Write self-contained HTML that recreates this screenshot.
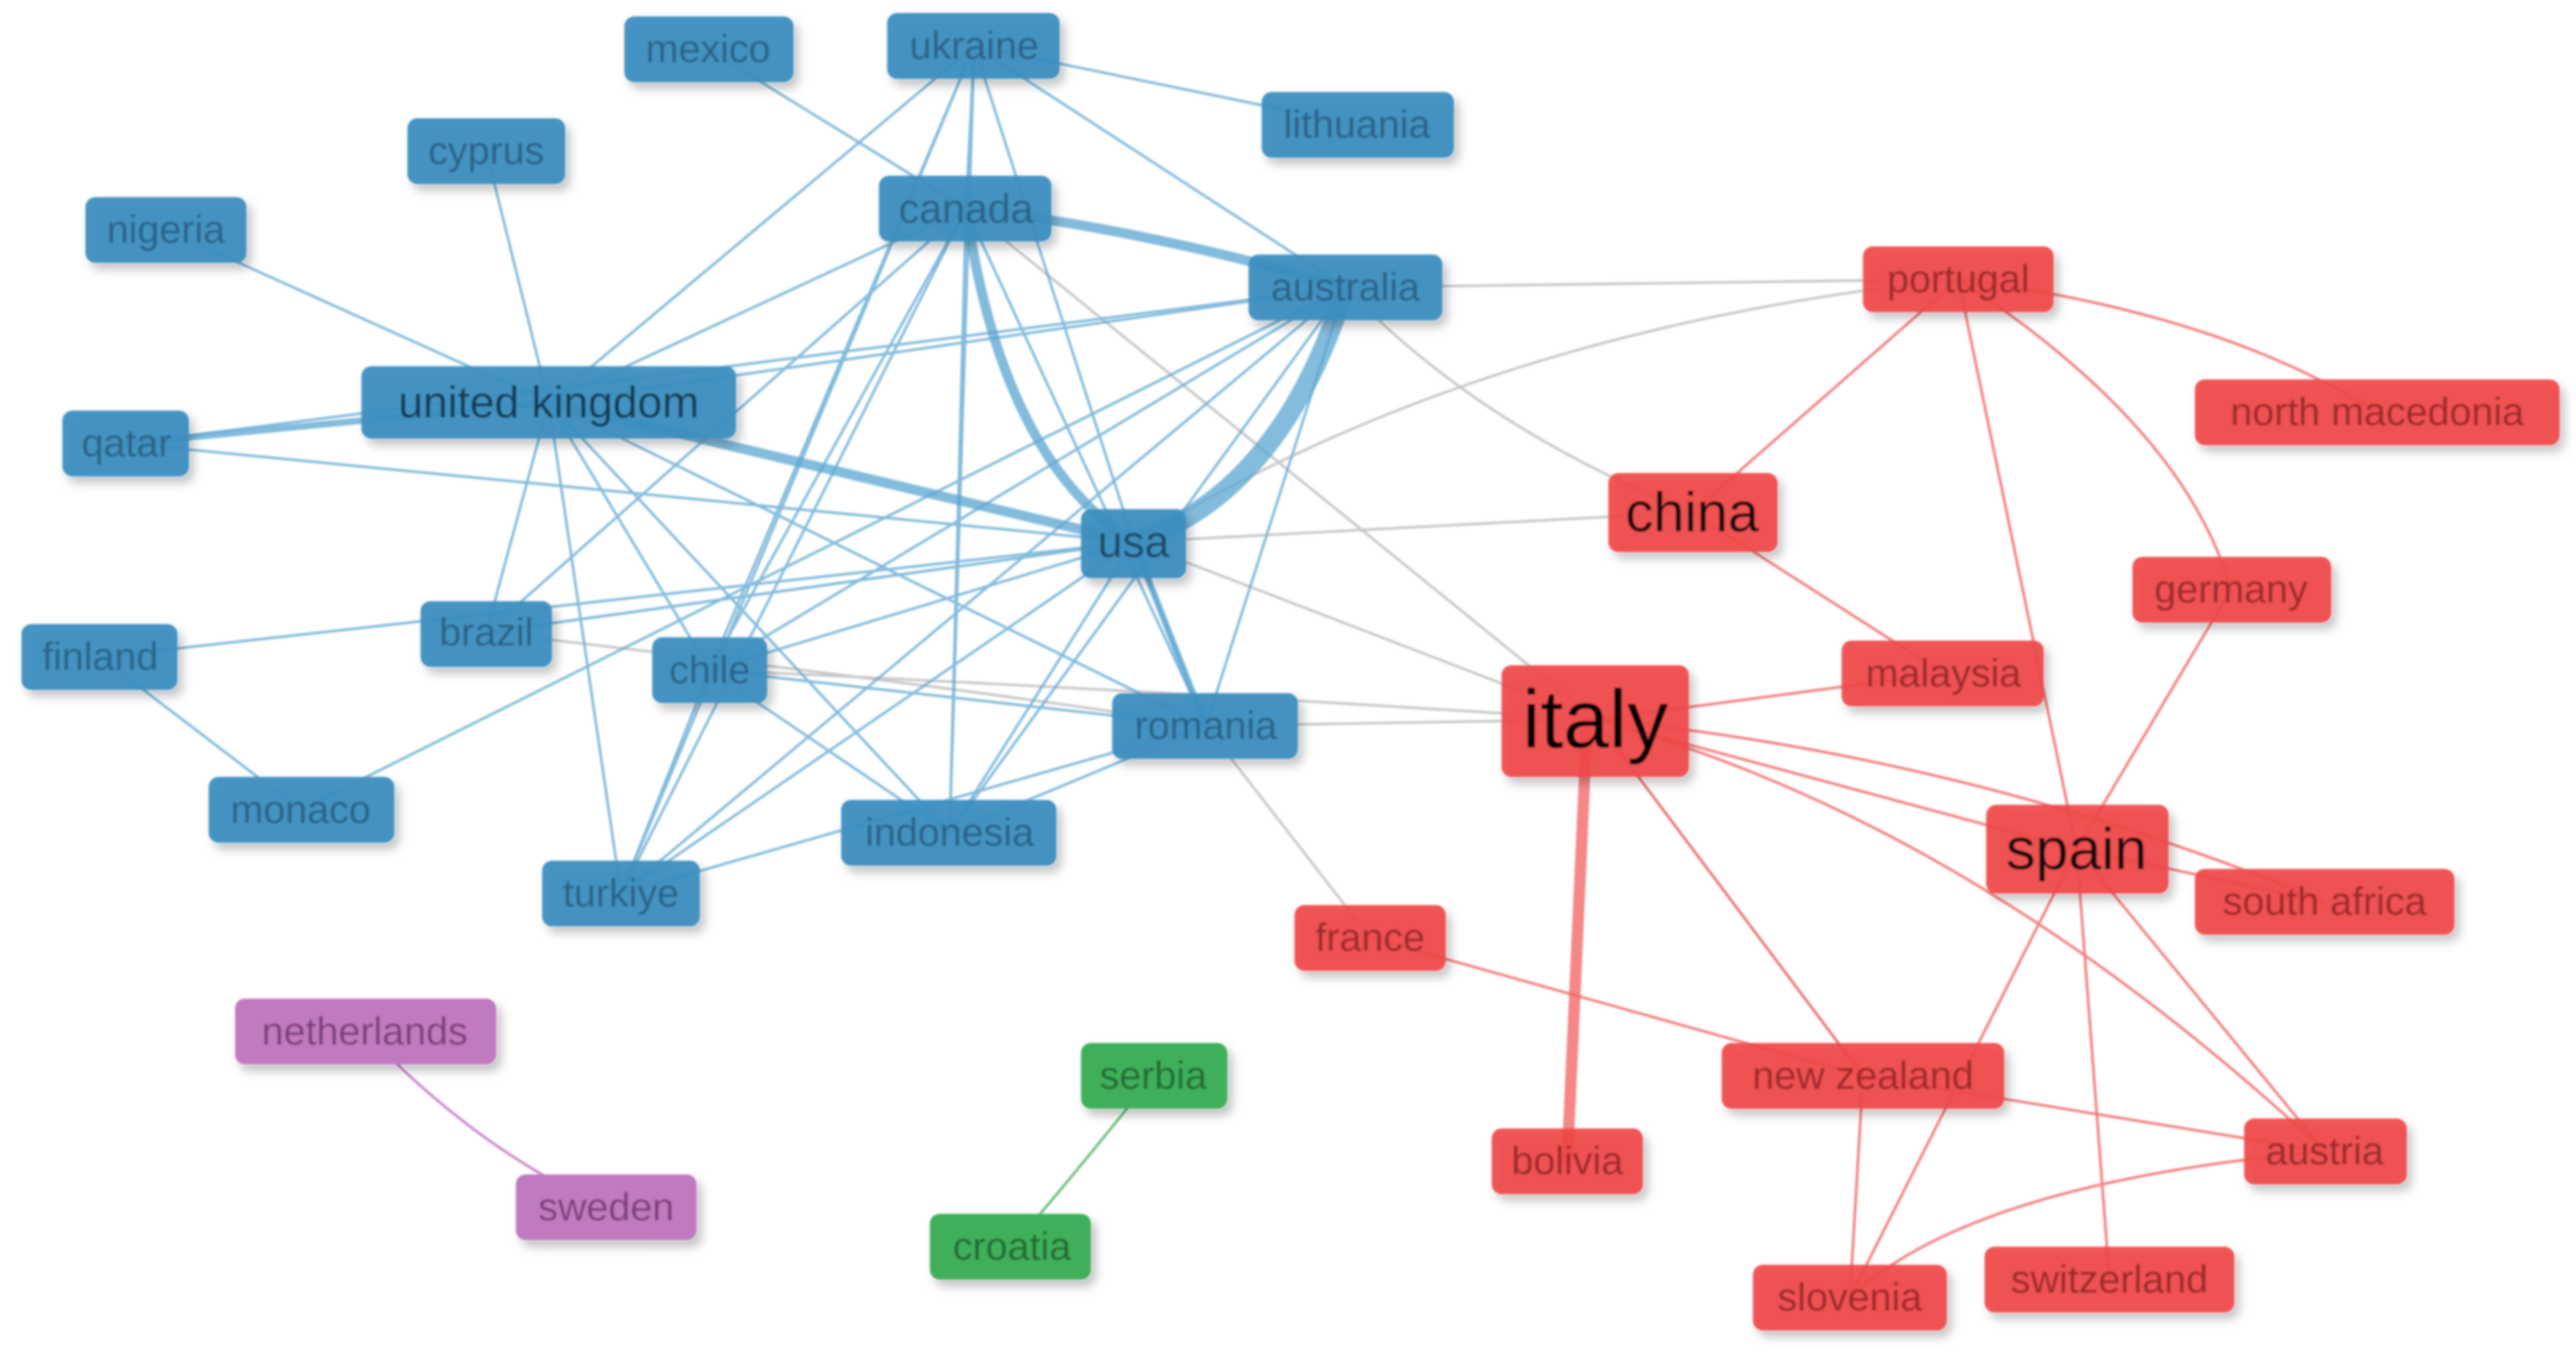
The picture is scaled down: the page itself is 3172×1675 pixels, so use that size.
<!DOCTYPE html>
<html><head><meta charset="utf-8">
<style>
html,body{margin:0;padding:0;background:#fff;}
svg{display:block;}
text{font-family:"Liberation Sans",sans-serif;dominant-baseline:central;text-anchor:middle;}
</style></head><body>
<svg width="3172" height="1675" viewBox="0 0 1568 828" preserveAspectRatio="none" xmlns="http://www.w3.org/2000/svg">
<defs>
<filter id="sh" x="-20%" y="-30%" width="150%" height="180%"><feDropShadow dx="3" dy="4" stdDeviation="3" flood-color="#000" flood-opacity="0.25"/></filter>
<filter id="bl"><feGaussianBlur stdDeviation="0.6"/></filter>
</defs>
<g filter="url(#bl)">
<g fill="none" stroke-linecap="round">
<g stroke="#bbbbbb" stroke-width="1.6" opacity="0.8">
<path d="M819 175 L1192 170"/>
<path d="M819 175 Q900 260 1030 312"/>
<path d="M690 330 L1030 312"/>
<path d="M690 330 Q900 200 1192 170"/>
<path d="M734 442 L971 438"/>
<path d="M690 330 L971 438"/>
<path d="M588 127 Q800 300 971 438"/>
<path d="M734 442 L834 571"/>
<path d="M432 408 Q700 420 971 438"/>
<path d="M971 438 L1134 655"/>
<path d="M296 385 Q600 420 734 442"/>
</g>
<g stroke="#5aa5d0" stroke-width="1.6" opacity="0.75">
<path d="M431 30 L588 127"/>
<path d="M593 28 L826 76"/>
<path d="M593 28 L334 245"/>
<path d="M593 28 L690 330"/>
<path d="M593 28 L432 408"/>
<path d="M593 28 L378 544"/>
<path d="M593 28 L578 507"/>
<path d="M593 28 L819 175"/>
<path d="M593 28 L588 127"/>
<path d="M296 92 L334 245"/>
<path d="M101 140 L334 245"/>
<path d="M588 127 L334 245"/>
<path d="M588 127 L432 408"/>
<path d="M588 127 L378 544"/>
<path d="M588 127 L578 507"/>
<path d="M588 127 L734 442"/>
<path d="M588 127 L296 385"/>
<path d="M819 175 L334 245"/>
<path d="M819 175 L432 408"/>
<path d="M819 175 L378 544"/>
<path d="M819 175 L578 507"/>
<path d="M819 175 L734 442"/>
<path d="M819 175 L183 493"/>
<path d="M77 270 L690 330"/>
<path d="M77 270 L819 175"/>
<path d="M334 245 L432 408"/>
<path d="M334 245 L378 544"/>
<path d="M334 245 L578 507"/>
<path d="M334 245 L734 442"/>
<path d="M334 245 L296 385"/>
<path d="M61 400 L690 330"/>
<path d="M61 400 L183 493"/>
<path d="M296 385 L690 330"/>
<path d="M432 408 L690 330"/>
<path d="M432 408 L734 442"/>
<path d="M432 408 L578 507"/>
<path d="M432 408 L378 544"/>
<path d="M690 330 L734 442"/>
<path d="M690 330 L578 507"/>
<path d="M690 330 L378 544"/>
<path d="M734 442 L378 544"/>
<path d="M734 442 L578 507"/>
<path d="M690 330 L296 385"/>
</g>
<g stroke="#5aa5d0" opacity="0.75">
<path d="M588 127 Q700 140 819 175" stroke-width="6"/>
<path d="M588 127 Q610 280 690 330" stroke-width="6"/>
<path d="M819 175 Q780 300 690 330" stroke-width="12"/>
<path d="M334 245 L690 330" stroke-width="6"/>
<path d="M77 270 L334 245" stroke-width="4"/>
<path d="M690 330 L734 442" stroke-width="4"/>
</g>
<g stroke="#f26060" stroke-width="1.6" opacity="0.8">
<path d="M1192 170 Q1350 190 1447 251"/>
<path d="M1192 170 L1030 312"/>
<path d="M1192 170 L1264 517"/>
<path d="M1192 170 Q1330 260 1358 359"/>
<path d="M1030 312 L1183 410"/>
<path d="M971 438 L1183 410"/>
<path d="M971 438 L1264 517"/>
<path d="M971 438 Q1200 460 1415 549"/>
<path d="M971 438 Q1200 500 1415 701"/>
<path d="M971 438 L1134 655"/>
<path d="M1358 359 L1264 517"/>
<path d="M1264 517 L1126 790"/>
<path d="M1264 517 L1284 779"/>
<path d="M1264 517 L1415 701"/>
<path d="M1264 517 L1415 549"/>
<path d="M834 571 L1134 655"/>
<path d="M1134 655 L1415 701"/>
<path d="M1134 655 L1126 790"/>
<path d="M1415 701 Q1200 720 1126 790"/>
</g>
<path d="M966 440 L954 707" stroke="#f26060" stroke-width="7" opacity="0.75"/>
<path d="M222 628 Q290 700 369 735" stroke="#c98ac9" stroke-width="1.6"/>
<path d="M702 655 Q650 720 616 759" stroke="#6cc080" stroke-width="1.6"/>
</g>
<g filter="url(#sh)">
<g fill="#3d8ec0" opacity="0.95">
<rect x="380" y="10" width="103" height="40" rx="6"/>
<rect x="540" y="8" width="105" height="40" rx="6"/>
<rect x="768" y="56" width="117" height="40" rx="6"/>
<rect x="248" y="72" width="96" height="40" rx="6"/>
<rect x="535" y="107" width="105" height="40" rx="6"/>
<rect x="52" y="120" width="98" height="40" rx="6"/>
<rect x="760" y="155" width="118" height="40" rx="6"/>
<rect x="220" y="223" width="228" height="44" rx="6"/>
<rect x="38" y="250" width="77" height="40" rx="6"/>
<rect x="658" y="310" width="64" height="42" rx="6"/>
<rect x="256" y="366" width="80" height="40" rx="6"/>
<rect x="13" y="380" width="95" height="40" rx="6"/>
<rect x="397" y="388" width="70" height="40" rx="6"/>
<rect x="677" y="422" width="113" height="40" rx="6"/>
<rect x="127" y="473" width="113" height="40" rx="6"/>
<rect x="512" y="487" width="131" height="40" rx="6"/>
<rect x="330" y="524" width="96" height="40" rx="6"/>
</g>
<g fill="#f04848" opacity="0.92">
<rect x="1134" y="150" width="116" height="40" rx="6"/>
<rect x="1336" y="231" width="222" height="40" rx="6"/>
<rect x="979" y="288" width="103" height="48" rx="6"/>
<rect x="1298" y="339" width="121" height="40" rx="6"/>
<rect x="1121" y="390" width="123" height="40" rx="6"/>
<rect x="914" y="405" width="114" height="68" rx="6"/>
<rect x="1209" y="490" width="111" height="54" rx="6"/>
<rect x="1336" y="529" width="158" height="40" rx="6"/>
<rect x="788" y="551" width="92" height="40" rx="6"/>
<rect x="1048" y="635" width="172" height="40" rx="6"/>
<rect x="908" y="687" width="92" height="40" rx="6"/>
<rect x="1366" y="681" width="99" height="40" rx="6"/>
<rect x="1067" y="770" width="118" height="40" rx="6"/>
<rect x="1208" y="759" width="152" height="40" rx="6"/>
</g>
<rect x="143" y="608" width="159" height="40" rx="6" fill="#c07ac0"/>
<rect x="314" y="715" width="110" height="40" rx="6" fill="#c07ac0"/>
<rect x="658" y="635" width="89" height="40" rx="6" fill="#3faf5a"/>
<rect x="566" y="739" width="98" height="40" rx="6" fill="#3faf5a"/>
</g>
<g font-size="24" fill="#2c6488">
<text x="431" y="30">mexico</text>
<text x="593" y="28">ukraine</text>
<text x="826" y="76">lithuania</text>
<text x="296" y="92">cyprus</text>
<text x="588" y="127" font-size="25">canada</text>
<text x="101" y="140">nigeria</text>
<text x="819" y="175">australia</text>
<text x="334" y="245" font-size="27" fill="#163a52">united kingdom</text>
<text x="77" y="270">qatar</text>
<text x="690" y="330" font-size="27" fill="#1d4a66">usa</text>
<text x="296" y="385">brazil</text>
<text x="61" y="400">finland</text>
<text x="432" y="408">chile</text>
<text x="734" y="442">romania</text>
<text x="183" y="493">monaco</text>
<text x="578" y="507">indonesia</text>
<text x="378" y="544">turkiye</text>
</g>
<g font-size="24" fill="#9e2a2a">
<text x="1192" y="170">portugal</text>
<text x="1447" y="251">north macedonia</text>
<text x="1030" y="312" font-size="34" fill="#111">china</text>
<text x="1358" y="359">germany</text>
<text x="1183" y="410">malaysia</text>
<text x="971" y="438" font-size="50" fill="#000">italy</text>
<text x="1264" y="517" font-size="36" fill="#111">spain</text>
<text x="1415" y="549">south africa</text>
<text x="834" y="571">france</text>
<text x="1134" y="655">new zealand</text>
<text x="954" y="707">bolivia</text>
<text x="1415" y="701">austria</text>
<text x="1126" y="790">slovenia</text>
<text x="1284" y="779">switzerland</text>
</g>
<g font-size="24">
<text x="222" y="628" fill="#7a3f7a">netherlands</text>
<text x="369" y="735" fill="#7a3f7a">sweden</text>
<text x="702" y="655" fill="#216b35">serbia</text>
<text x="616" y="759" fill="#216b35">croatia</text>
</g>
</g>
</svg>
</body></html>
